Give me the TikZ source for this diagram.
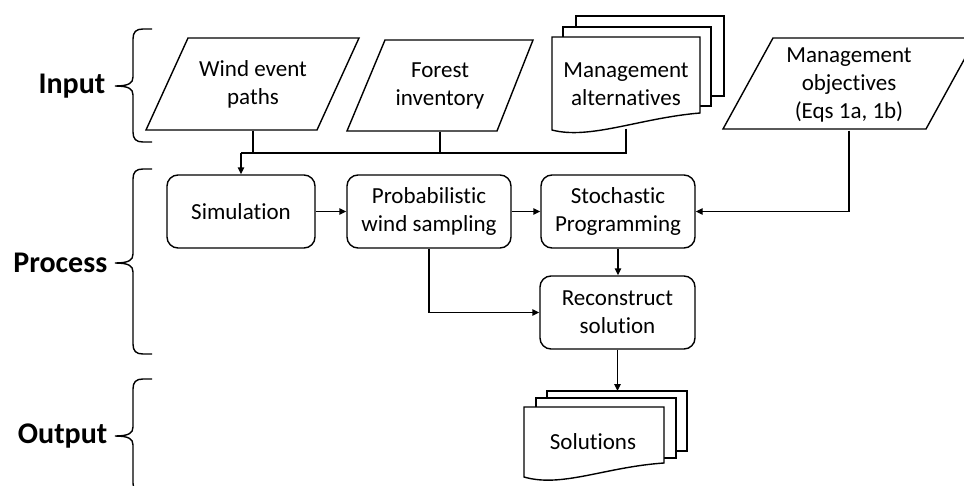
\documentclass[tikz,border=0pt]{standalone}
\usepackage{fontspec}
\setmainfont[RawFeature={-liga,-clig}]{Carlito}
\usetikzlibrary{arrows.meta}
\begin{document}
\begin{tikzpicture}[x=1pt,y=-1pt,
  line width=1.4pt,
  txt/.style={font=\fontsize{23}{28}\selectfont, align=center, inner sep=0pt},
  rbox/.style={draw, rounded corners=11pt, minimum height=73pt, inner sep=0pt, align=center, font=\fontsize{23}{28}\selectfont},
  lab/.style={font=\fontsize{30}{36}\selectfont\bfseries, anchor=east, inner sep=0pt},
  arr/.style={-{Triangle[length=7pt,width=6.5pt]}},
  shp/.style={draw, fill=white, line join=miter},
  brace/.style={line width=1.4pt}
]
\useasboundingbox (0,0) rectangle (964,485);

% ---------- braces and labels ----------
\def\bracepath#1#2#3{% top, mid, bottom
  \draw[brace] (152,#1) -- (143,#1) .. controls (136,#1) and (133,#1+3) .. (133,#1+10)
     -- (133,#2-9) .. controls (133,#2-3) and (129,#2) .. (115,#2)
     .. controls (129,#2) and (133,#2+3) .. (133,#2+9)
     -- (133,#3-10) .. controls (133,#3-3) and (136,#3) .. (143,#3) -- (152,#3);}
\bracepath{29}{86}{142}
\bracepath{169}{263}{354}
\bracepath{379}{436}{493}
\node[lab] (linput) at (106,86) {Input};
\node[lab] (lprocess) at (108,263) {Process};
\node[lab] (loutput) at (108,436) {Output};

% ---------- input shapes ----------
\draw[shp] (188,38) -- (359,38) -- (317,130) -- (146,130) -- cycle;
\node[txt, minimum height=92pt, minimum width=120pt] (wind) at (253,84) {Wind event\\paths};

\draw[shp] (385,40) -- (533,40) -- (497,131) -- (347,131) -- cycle;
\node[txt, minimum height=91pt, minimum width=110pt] (forest) at (440,85.5) {Forest\\inventory};

% management alternatives (document stack)
\draw[shp] (576,16) rectangle (724,96);
\draw[shp] (563,27) rectangle (711,106);
\draw[shp] (552,37) -- (700,37) -- (700,113)
   .. controls (640,118) and (590,140) .. (552,130) -- cycle;
\node[txt] (alt) at (626,84) {Management\\alternatives};
\coordinate (altb) at (626,128.5);

% management objectives
\draw[shp] (773,38) -- (976,38) -- (926,129) -- (723,129) -- cycle;
\node[txt, minimum height=91pt, minimum width=140pt] (obj) at (849,84.5) {Management\\objectives\\(Eqs 1a, 1b)};

% ---------- process boxes ----------
\node[rbox, minimum width=148pt] (sim) at (241,211.5) {Simulation};
\node[rbox, minimum width=164pt] (prob) at (429,211.5) {Probabilistic\\wind sampling};
\node[rbox, minimum width=154pt] (stoch) at (618,211.5) {Stochastic\\Programming};
\node[rbox, minimum width=155pt] (recon) at (617.5,312.5) {Reconstruct\\solution};

% ---------- output (document stack) ----------
\draw[shp] (547,391) rectangle (687,451);
\draw[shp] (536,398) rectangle (676,458);
\draw[shp] (524,407) -- (664,407) -- (664,463)
   .. controls (605,467) and (562,488) .. (524,477) -- cycle;
\node[txt] (sol) at (593,442) {Solutions};
\coordinate (soltop) at (617,391);

% ---------- connectors ----------
\coordinate (j) at (241,153);
\draw (altb) |- (j);
\draw (wind.south) -- (wind.south |- j);
\draw (forest.south) -- (forest.south |- j);
\draw[arr] (j) -- (sim.north);
\draw[arr] (sim.east) -- (prob.west);
\draw[arr] (prob.east) -- (stoch.west);
\draw[arr] (obj.south) |- (stoch.east);
\draw[arr] (prob.south) |- (recon.west);
\draw[arr] (stoch.south) -- (stoch.south |- recon.north);
\draw[arr] (recon.south) -- (recon.south |- soltop);
\end{tikzpicture}
\end{document}
